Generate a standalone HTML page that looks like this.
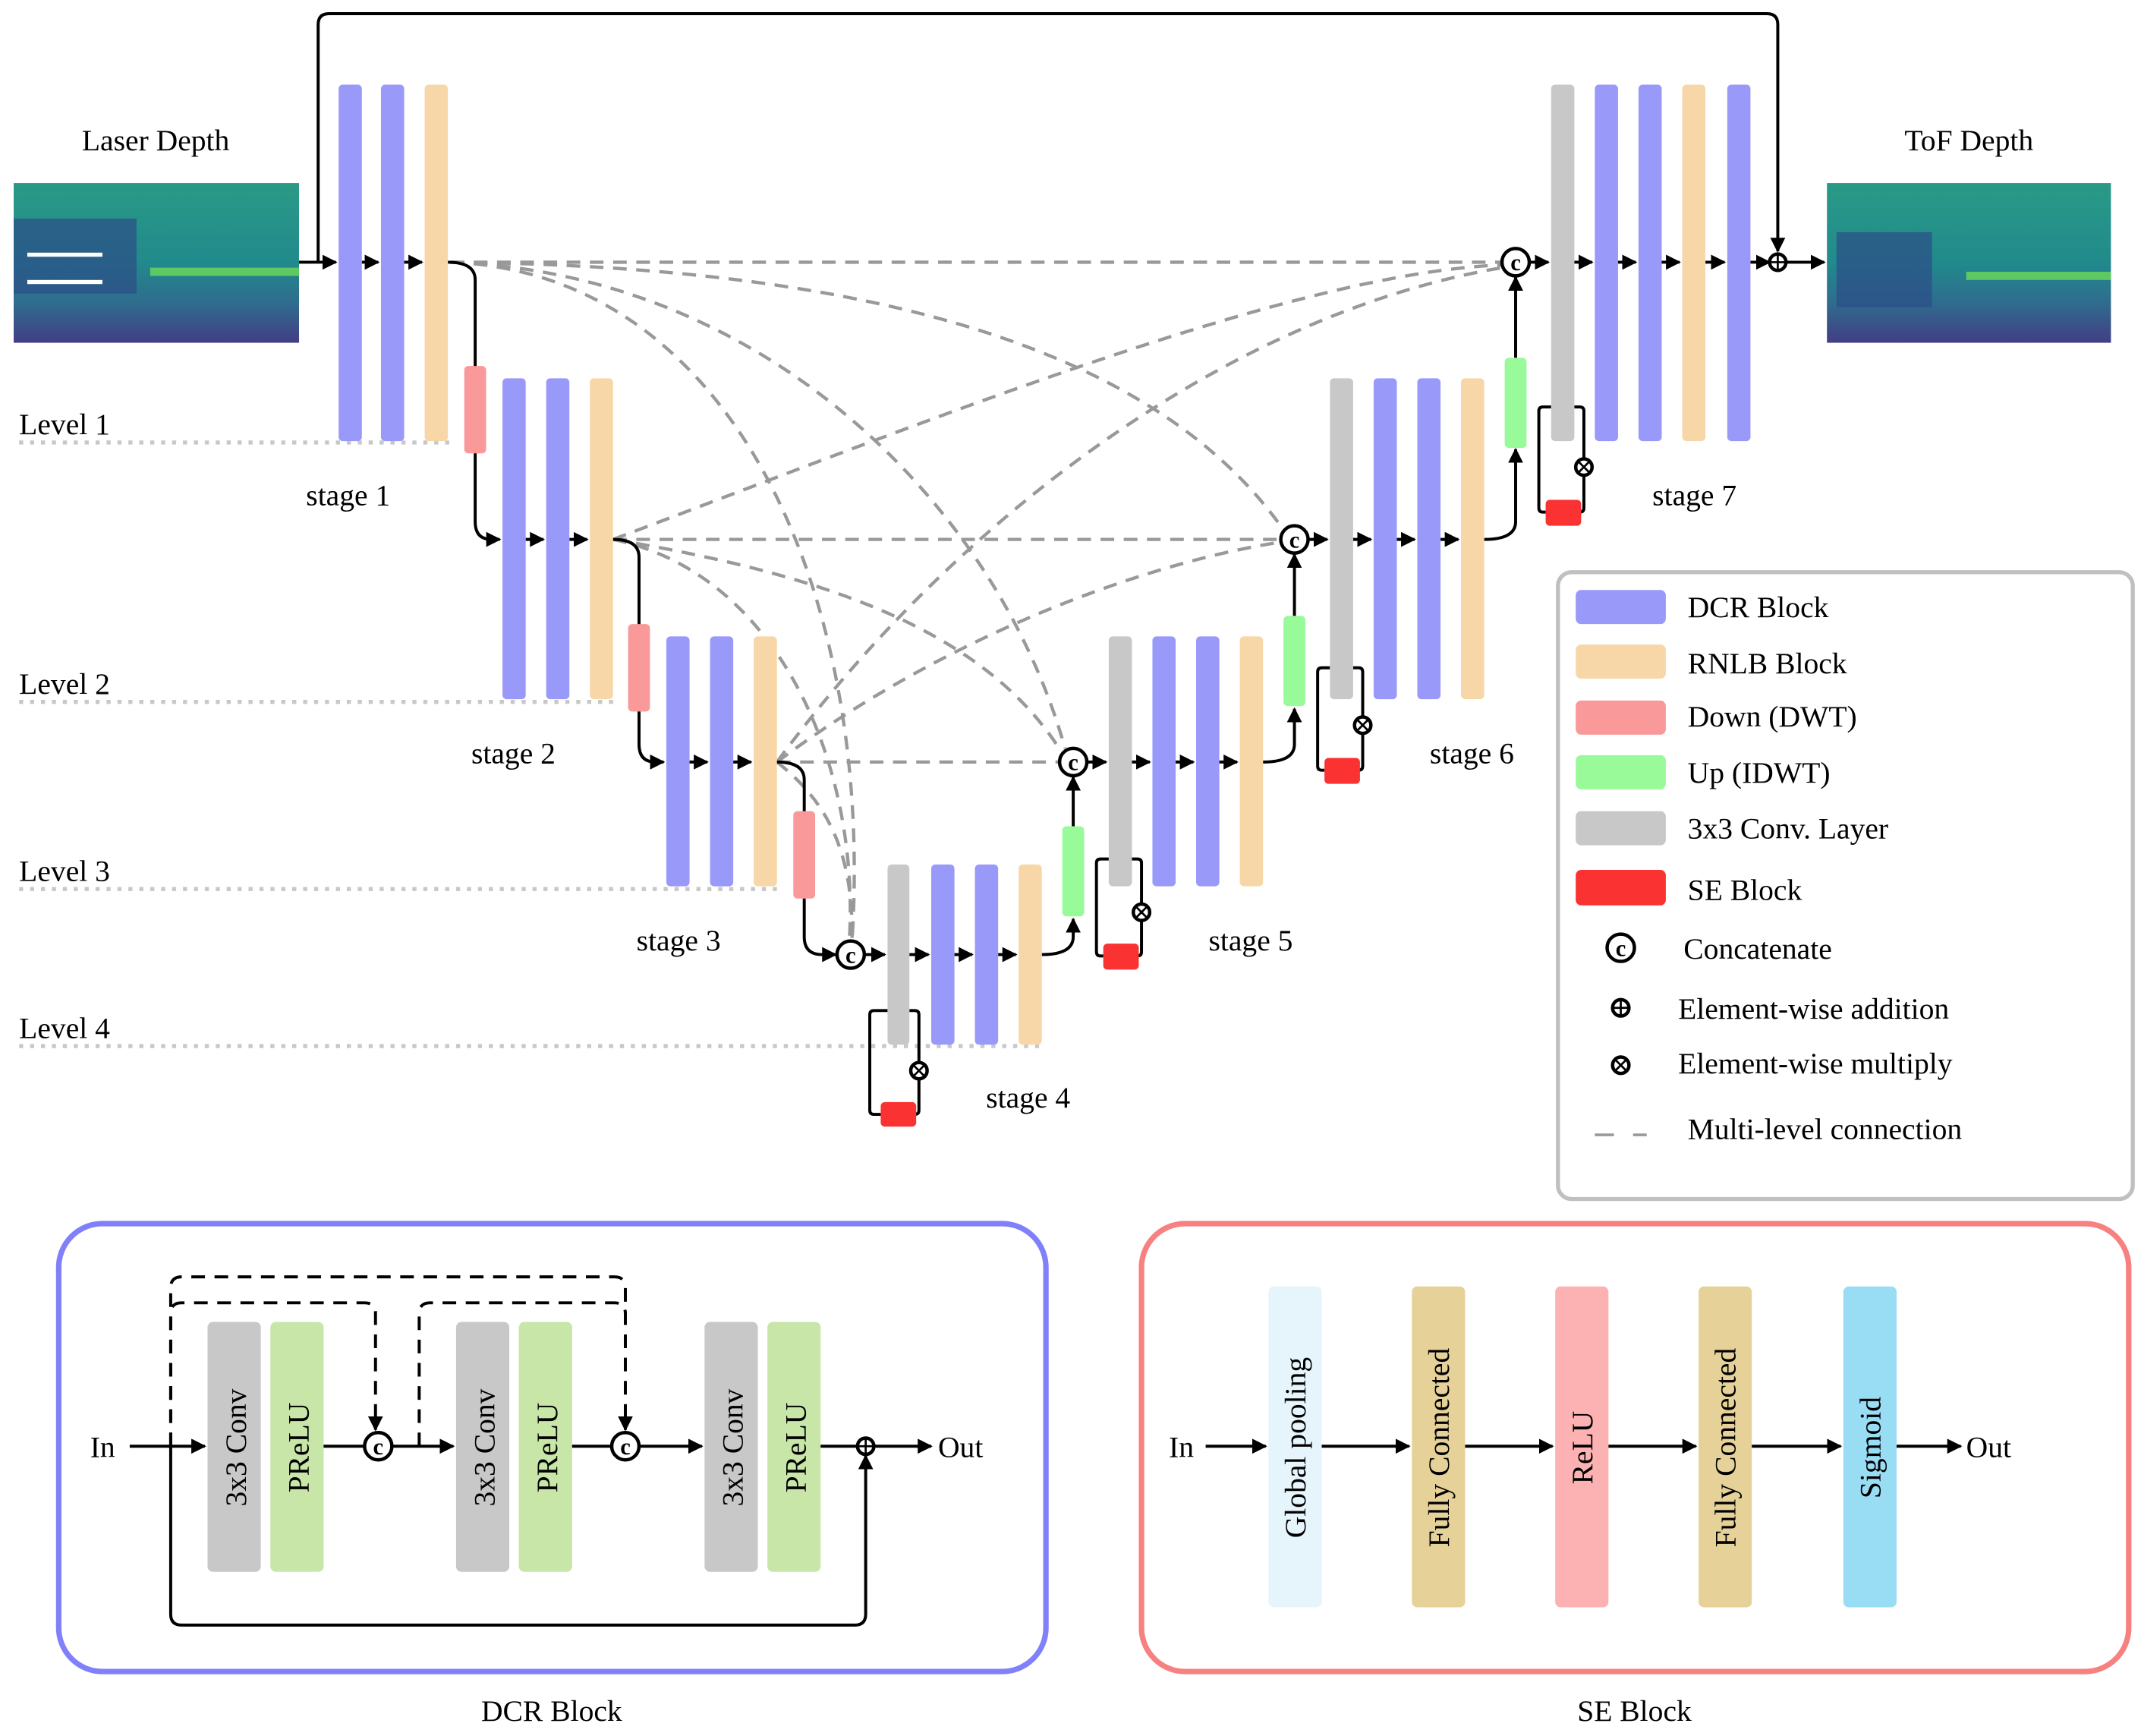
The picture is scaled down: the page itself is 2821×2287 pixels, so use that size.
<!DOCTYPE html>
<html><head><meta charset="utf-8"><style>
html,body{margin:0;padding:0;background:#fff;}
svg{display:block;}
text{font-family:"Liberation Serif",serif;fill:#000;}
</style></head><body>
<svg width="2821" height="2287" viewBox="0 0 1568 1271.2" xmlns="http://www.w3.org/2000/svg">
<defs>
<marker id="ar" viewBox="0 0 10 10" refX="9" refY="5" markerWidth="5" markerHeight="5" orient="auto"><path d="M0,0 L10,5 L0,10 z" fill="#000"/></marker>
<linearGradient id="img1" x1="0" y1="0" x2="0" y2="1"><stop offset="0" stop-color="#2a9a86"/><stop offset="0.5" stop-color="#218a8c"/><stop offset="0.75" stop-color="#2f6c8e"/><stop offset="1" stop-color="#433e85"/></linearGradient>
</defs>
<rect x="10" y="134" width="209" height="117" fill="url(#img1)"/>
<rect x="10" y="160" width="90" height="55" fill="#2c4d88" opacity="0.7"/>
<rect x="110" y="196" width="109" height="6" fill="#5ec962"/>
<rect x="20" y="185" width="55" height="3" fill="#fff"/>
<rect x="20" y="205" width="55" height="3" fill="#fff"/>
<rect x="1338" y="134" width="208" height="117" fill="url(#img1)"/>
<rect x="1345" y="170" width="70" height="55" fill="#2c4d88" opacity="0.7"/>
<rect x="1440" y="199" width="106" height="6" fill="#5ec962"/>
<text x="114" y="110" font-size="22" text-anchor="middle">Laser Depth</text>
<text x="1442" y="110" font-size="22" text-anchor="middle">ToF Depth</text>

<g stroke="#c8c8c8" stroke-width="3" stroke-dasharray="3,5">
<line x1="14" y1="324" x2="330" y2="324"/>
<line x1="14" y1="514" x2="450" y2="514"/>
<line x1="14" y1="651" x2="570" y2="651"/>
<line x1="14" y1="766" x2="765" y2="766"/>
</g>
<g font-size="22">
<text x="14" y="318">Level 1</text><text x="14" y="508">Level 2</text>
<text x="14" y="645">Level 3</text><text x="14" y="760">Level 4</text>
<text x="255" y="370" text-anchor="middle">stage 1</text>
<text x="376" y="559" text-anchor="middle">stage 2</text>
<text x="497" y="696" text-anchor="middle">stage 3</text>
<text x="753" y="811" text-anchor="middle">stage 4</text>
<text x="916" y="696" text-anchor="middle">stage 5</text>
<text x="1078" y="559" text-anchor="middle">stage 6</text>
<text x="1241" y="370" text-anchor="middle">stage 7</text>
</g>

<g fill="none" stroke="#999" stroke-width="2.4" stroke-dasharray="10,7">
<path d="M330,192 L1100,192"/>
<path d="M330,192 C650,195 850,260 940,388"/>
<path d="M330,192 C560,200 730,370 780,548"/>
<path d="M330,192 C540,200 640,440 624,689"/>
<path d="M449,395 C700,300 950,200 1100,194"/>
<path d="M449,395 L938,395"/>
<path d="M449,395 C600,420 720,460 777,550"/>
<path d="M449,395 C570,420 630,560 622,689"/>
<path d="M569,558 C700,380 900,230 1100,196"/>
<path d="M569,558 C700,460 850,410 938,397"/>
<path d="M569,558 L776,558"/>
<path d="M569,558 C610,590 625,630 624,689"/>
</g>

<g fill="none" stroke="#000" stroke-width="2.2">
<path d="M219,192 L246,192" marker-end="url(#ar)"/>
<path d="M233,192 L233,18 Q233,10 241,10 L1294,10 Q1302,10 1302,18 L1302,184" marker-end="url(#ar)"/>
<path d="M265,192 L277,192" marker-end="url(#ar)"/>
<path d="M296,192 L309,192" marker-end="url(#ar)"/>
<path d="M328,192 Q348,192 348,205 L348,382 Q348,395 360,395 L366,395" marker-end="url(#ar)"/>
<path d="M385,395 L398,395" marker-end="url(#ar)"/>
<path d="M417,395 L430,395" marker-end="url(#ar)"/>
<path d="M449,395 Q468,395 468,408 L468,545 Q468,558 480,558 L486,558" marker-end="url(#ar)"/>
<path d="M505,558 L518,558" marker-end="url(#ar)"/>
<path d="M537,558 L550,558" marker-end="url(#ar)"/>
<path d="M569,558 Q589,558 589,571 L589,686 Q589,699 602,699 L612,699" marker-end="url(#ar)"/>
<path d="M633,699 L648,699" marker-end="url(#ar)"/>
<path d="M666,699 L680,699" marker-end="url(#ar)"/>
<path d="M699,699 L712,699" marker-end="url(#ar)"/>
<path d="M731,699 L744,699" marker-end="url(#ar)"/>
<path d="M763,699 Q786,699 786,686 L786,673" marker-end="url(#ar)"/>
<path d="M786,605 L786,569" marker-end="url(#ar)"/>
<path d="M796,558 L810,558" marker-end="url(#ar)"/>
<path d="M829,558 L842,558" marker-end="url(#ar)"/>
<path d="M861,558 L874,558" marker-end="url(#ar)"/>
<path d="M893,558 L906,558" marker-end="url(#ar)"/>
<path d="M925,558 Q948,558 948,545 L948,519" marker-end="url(#ar)"/>
<path d="M948,451 L948,406" marker-end="url(#ar)"/>
<path d="M958,395 L972,395" marker-end="url(#ar)"/>
<path d="M991,395 L1004,395" marker-end="url(#ar)"/>
<path d="M1023,395 L1036,395" marker-end="url(#ar)"/>
<path d="M1055,395 L1068,395" marker-end="url(#ar)"/>
<path d="M1087,395 Q1110,395 1110,382 L1110,329" marker-end="url(#ar)"/>
<path d="M1110,262 L1110,203" marker-end="url(#ar)"/>
<path d="M1120,192 L1134,192" marker-end="url(#ar)"/>
<path d="M1153,192 L1166,192" marker-end="url(#ar)"/>
<path d="M1185,192 L1198,192" marker-end="url(#ar)"/>
<path d="M1217,192 L1230,192" marker-end="url(#ar)"/>
<path d="M1249,192 L1263,192" marker-end="url(#ar)"/>
<path d="M1282,192 L1296,192" marker-end="url(#ar)"/>
<path d="M1308,192 L1336,192" marker-end="url(#ar)"/>
<path d="M650,740 L640,740 Q637,740 637,743 L637,813 Q637,816 640,816 L645,816 M671,816 L670,816 Q673,816 673,813 L673,790 M673,778 L673,743 Q673,740 670,740 L666,740"/>
<path d="M812,629 L806,629 Q803,629 803,632 L803,697 Q803,700 806,700 L808,700 M833,700 Q836,700 836,697 L836,674 M836,662 L836,632 Q836,629 833,629 L829,629"/>
<path d="M974,489 L968,489 Q965,489 965,492 L965,561 Q965,564 968,564 L970,564 M995,564 Q998,564 998,561 L998,537 M998,525 L998,492 Q998,489 995,489 L991,489"/>
<path d="M1136,298 L1130,298 Q1127,298 1127,301 L1127,372 Q1127,375 1130,375 L1132,375 M1157,375 Q1160,375 1160,372 L1160,348 M1160,336 L1160,301 Q1160,298 1157,298 L1153,298"/>
</g>

<g>
<rect x="248" y="62" width="17" height="261" rx="3" fill="#9999fa"/>
<rect x="279" y="62" width="17" height="261" rx="3" fill="#9999fa"/>
<rect x="311" y="62" width="17" height="261" rx="3" fill="#f7d7a8"/>
<rect x="340" y="268" width="16" height="64" rx="3" fill="#fa9999"/>
<rect x="368" y="277" width="17" height="235" rx="3" fill="#9999fa"/>
<rect x="400" y="277" width="17" height="235" rx="3" fill="#9999fa"/>
<rect x="432" y="277" width="17" height="235" rx="3" fill="#f7d7a8"/>
<rect x="460" y="457" width="16" height="64" rx="3" fill="#fa9999"/>
<rect x="488" y="466" width="17" height="183" rx="3" fill="#9999fa"/>
<rect x="520" y="466" width="17" height="183" rx="3" fill="#9999fa"/>
<rect x="552" y="466" width="17" height="183" rx="3" fill="#f7d7a8"/>
<rect x="581" y="594" width="16" height="64" rx="3" fill="#fa9999"/>
<rect x="650" y="633" width="16" height="132" rx="3" fill="#c8c8c8"/>
<rect x="682" y="633" width="17" height="132" rx="3" fill="#9999fa"/>
<rect x="714" y="633" width="17" height="132" rx="3" fill="#9999fa"/>
<rect x="746" y="633" width="17" height="132" rx="3" fill="#f7d7a8"/>
<rect x="645" y="807" width="26" height="18" rx="3" fill="#fa3232"/>
<rect x="778" y="605" width="16" height="66" rx="3" fill="#99fa99"/>
<rect x="812" y="466" width="17" height="183" rx="3" fill="#c8c8c8"/>
<rect x="844" y="466" width="17" height="183" rx="3" fill="#9999fa"/>
<rect x="876" y="466" width="17" height="183" rx="3" fill="#9999fa"/>
<rect x="908" y="466" width="17" height="183" rx="3" fill="#f7d7a8"/>
<rect x="808" y="691" width="26" height="19" rx="3" fill="#fa3232"/>
<rect x="940" y="451" width="16" height="66" rx="3" fill="#99fa99"/>
<rect x="974" y="277" width="17" height="235" rx="3" fill="#c8c8c8"/>
<rect x="1006" y="277" width="17" height="235" rx="3" fill="#9999fa"/>
<rect x="1038" y="277" width="17" height="235" rx="3" fill="#9999fa"/>
<rect x="1070" y="277" width="17" height="235" rx="3" fill="#f7d7a8"/>
<rect x="970" y="555" width="26" height="19" rx="3" fill="#fa3232"/>
<rect x="1102" y="262" width="16" height="66" rx="3" fill="#99fa99"/>
<rect x="1136" y="62" width="17" height="261" rx="3" fill="#c8c8c8"/>
<rect x="1168" y="62" width="17" height="261" rx="3" fill="#9999fa"/>
<rect x="1200" y="62" width="17" height="261" rx="3" fill="#9999fa"/>
<rect x="1232" y="62" width="17" height="261" rx="3" fill="#f7d7a8"/>
<rect x="1265" y="62" width="17" height="261" rx="3" fill="#9999fa"/>
<rect x="1132" y="366" width="26" height="19" rx="3" fill="#fa3232"/>
</g>

<g fill="#fff" stroke="#000" stroke-width="2.5">
<circle cx="623" cy="699" r="10"/><circle cx="786" cy="558" r="10"/>
<circle cx="948" cy="395" r="10"/><circle cx="1110" cy="192" r="10"/>
<circle cx="1302" cy="192" r="6"/>
<circle cx="673" cy="784" r="6"/><circle cx="836" cy="668" r="6"/>
<circle cx="998" cy="531" r="6"/><circle cx="1160" cy="342" r="6"/>
</g>
<g font-size="17" font-weight="bold" text-anchor="middle">
<text x="623" y="705" font-family="Liberation Sans,sans-serif">c</text><text x="786" y="564" font-family="Liberation Sans,sans-serif">c</text>
<text x="948" y="401" font-family="Liberation Sans,sans-serif">c</text><text x="1110" y="198" font-family="Liberation Sans,sans-serif">c</text>
</g>
<g stroke="#000" stroke-width="1.5">
<line x1="1302" y1="186" x2="1302" y2="198"/><line x1="1296" y1="192" x2="1308" y2="192"/>
<path d="M669,780 l8,8 M677,780 l-8,8 M832,664 l8,8 M840,664 l-8,8 M994,527 l8,8 M1002,527 l-8,8 M1156,338 l8,8 M1164,338 l-8,8"/>
</g>

<rect x="1141" y="419" width="421" height="459" rx="10" fill="none" stroke="#c0c0c0" stroke-width="3"/>
<rect x="1154" y="432" width="66" height="25" rx="4" fill="#9999fa"/>
<rect x="1154" y="472" width="66" height="25" rx="4" fill="#f7d7a8"/>
<rect x="1154" y="513" width="66" height="25" rx="4" fill="#fa9999"/>
<rect x="1154" y="553" width="66" height="25" rx="4" fill="#99fa99"/>
<rect x="1154" y="594" width="66" height="25" rx="4" fill="#c8c8c8"/>
<rect x="1154" y="637" width="66" height="26" rx="4" fill="#fa3232"/>
<circle cx="1187" cy="694" r="10" fill="#fff" stroke="#000" stroke-width="2.5"/>
<text x="1187" y="700" font-size="17" font-weight="bold" text-anchor="middle" font-family="Liberation Sans,sans-serif">c</text>
<circle cx="1187" cy="738" r="6" fill="#fff" stroke="#000" stroke-width="2.5"/>
<path d="M1187,732 v12 M1181,738 h12" stroke="#000" stroke-width="1.5"/>
<circle cx="1187" cy="780" r="6" fill="#fff" stroke="#000" stroke-width="2.5"/>
<path d="M1183,776 l8,8 M1191,776 l-8,8" stroke="#000" stroke-width="1.5"/>
<path d="M1168,831 h14 M1196,831 h10" stroke="#999" stroke-width="2"/>
<g font-size="22">
<text x="1236" y="452">DCR Block</text>
<text x="1236" y="493">RNLB Block</text>
<text x="1236" y="532">Down (DWT)</text>
<text x="1236" y="573">Up (IDWT)</text>
<text x="1236" y="614">3x3 Conv. Layer</text>
<text x="1236" y="659">SE Block</text>
<text x="1233" y="702">Concatenate</text>
<text x="1229" y="746">Element-wise addition</text>
<text x="1229" y="786">Element-wise multiply</text>
<text x="1236" y="834">Multi-level connection</text>
</g>

<rect x="43" y="896" width="723" height="328" rx="32" fill="none" stroke="#8080fa" stroke-width="4"/>
<g>
<rect x="152" y="968" width="39" height="183" rx="4" fill="#c8c8c8"/>
<rect x="198" y="968" width="39" height="183" rx="4" fill="#c8e6a8"/>
<rect x="334" y="968" width="39" height="183" rx="4" fill="#c8c8c8"/>
<rect x="380" y="968" width="39" height="183" rx="4" fill="#c8e6a8"/>
<rect x="516" y="968" width="39" height="183" rx="4" fill="#c8c8c8"/>
<rect x="562" y="968" width="39" height="183" rx="4" fill="#c8e6a8"/>
</g>
<g font-size="22">
<text transform="translate(180,1060) rotate(-90)" text-anchor="middle" fill="#555">3x3 Conv</text>
<text transform="translate(226,1060) rotate(-90)" text-anchor="middle" fill="#555">PReLU</text>
<text transform="translate(362,1060) rotate(-90)" text-anchor="middle" fill="#555">3x3 Conv</text>
<text transform="translate(408,1060) rotate(-90)" text-anchor="middle" fill="#555">PReLU</text>
<text transform="translate(544,1060) rotate(-90)" text-anchor="middle" fill="#555">3x3 Conv</text>
<text transform="translate(590,1060) rotate(-90)" text-anchor="middle" fill="#555">PReLU</text>
<text x="66" y="1067">In</text><text x="687" y="1067">Out</text>
</g>
<g fill="none" stroke="#000" stroke-width="2.2">
<path d="M95,1059 L150,1059" marker-end="url(#ar)"/>
<path d="M237,1059 L266,1059"/>
<path d="M288,1059 L332,1059" marker-end="url(#ar)"/>
<path d="M419,1059 L447,1059"/>
<path d="M469,1059 L514,1059" marker-end="url(#ar)"/>
<path d="M601,1059 L628,1059"/>
<path d="M640,1059 L682,1059" marker-end="url(#ar)"/>
<path d="M125,1059 L125,1182 Q125,1190 133,1190 L626,1190 Q634,1190 634,1182 L634,1066" marker-end="url(#ar)"/>
<g stroke-dasharray="10,7">
<path d="M125,1059 L125,962 Q125,954 133,954 L267,954 Q275,954 275,962 L275,1047" marker-end="url(#ar)"/>
<path d="M125,1059 L125,943 Q125,935 133,935 L450,935 Q458,935 458,943 L458,1047" marker-end="url(#ar)"/>
<path d="M307,1059 L307,962 Q307,954 315,954 L450,954 Q458,954 458,962"/>
</g>
</g>
<g fill="#fff" stroke="#000" stroke-width="2.5">
<circle cx="277" cy="1059" r="10"/><circle cx="458" cy="1059" r="10"/><circle cx="634" cy="1059" r="6"/>
</g>
<text x="277" y="1065" font-size="17" font-weight="bold" text-anchor="middle" font-family="Liberation Sans,sans-serif">c</text>
<text x="458" y="1065" font-size="17" font-weight="bold" text-anchor="middle" font-family="Liberation Sans,sans-serif">c</text>
<path d="M634,1053 v12 M628,1059 h12" stroke="#000" stroke-width="1.5"/>
<text x="404" y="1260" font-size="22" text-anchor="middle">DCR Block</text>

<rect x="836" y="896" width="723" height="328" rx="32" fill="none" stroke="#f78080" stroke-width="4"/>
<rect x="929" y="942" width="39" height="235" rx="4" fill="#e6f4fc"/>
<rect x="1034" y="942" width="39" height="235" rx="4" fill="#e6d299"/>
<rect x="1139" y="942" width="39" height="235" rx="4" fill="#fcb2b2"/>
<rect x="1244" y="942" width="39" height="235" rx="4" fill="#e6d299"/>
<rect x="1350" y="942" width="39" height="235" rx="4" fill="#99ddf5"/>
<g font-size="22">
<text transform="translate(956,1060) rotate(-90)" text-anchor="middle" fill="#444">Global pooling</text>
<text transform="translate(1061,1060) rotate(-90)" text-anchor="middle" fill="#444">Fully Connected</text>
<text transform="translate(1166,1060) rotate(-90)" text-anchor="middle" fill="#444">ReLU</text>
<text transform="translate(1271,1060) rotate(-90)" text-anchor="middle" fill="#444">Fully Connected</text>
<text transform="translate(1377,1060) rotate(-90)" text-anchor="middle" fill="#444">Sigmoid</text>
<text x="856" y="1067">In</text><text x="1440" y="1067">Out</text>
</g>
<g fill="none" stroke="#000" stroke-width="2.2">
<path d="M883,1059 L927,1059" marker-end="url(#ar)"/>
<path d="M968,1059 L1032,1059" marker-end="url(#ar)"/>
<path d="M1073,1059 L1137,1059" marker-end="url(#ar)"/>
<path d="M1178,1059 L1242,1059" marker-end="url(#ar)"/>
<path d="M1283,1059 L1348,1059" marker-end="url(#ar)"/>
<path d="M1389,1059 L1436,1059" marker-end="url(#ar)"/>
</g>
<text x="1197" y="1260" font-size="22" text-anchor="middle">SE Block</text>
</svg>
</body></html>
